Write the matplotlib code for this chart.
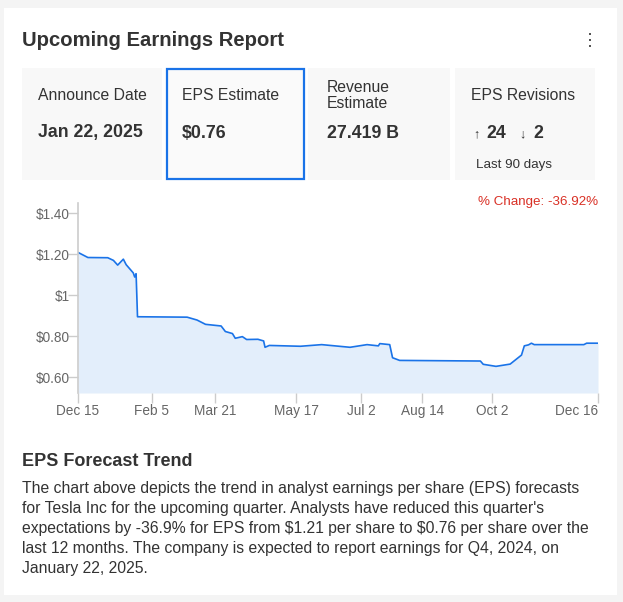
import matplotlib
matplotlib.use("Agg")
import matplotlib.pyplot as plt
from matplotlib.patches import Rectangle
import pandas as pd

plt.rcParams['font.family'] = ['Liberation Sans']
plt.rcParams['text.parse_math'] = False

# ---------------- data ----------------
dates = ["2023-12-15", "2023-12-22", "2024-01-05", "2024-01-09", "2024-01-12",
         "2024-01-16", "2024-01-18", "2024-01-23", "2024-01-24", "2024-01-25",
         "2024-01-26", "2024-03-01", "2024-03-08", "2024-03-14", "2024-03-25",
         "2024-03-28", "2024-04-02", "2024-04-04", "2024-04-09", "2024-04-12",
         "2024-04-20", "2024-04-24", "2024-04-25", "2024-04-28", "2024-05-20",
         "2024-06-04", "2024-06-24", "2024-07-06", "2024-07-14", "2024-07-15",
         "2024-07-22", "2024-07-24", "2024-07-29", "2024-09-24", "2024-09-26",
         "2024-10-05", "2024-10-15", "2024-10-23", "2024-10-25", "2024-10-28",
         "2024-10-30", "2024-11-01", "2024-12-06", "2024-12-08", "2024-12-16"]
eps = [1.208, 1.183, 1.182, 1.169, 1.146,
       1.175, 1.148, 1.108, 1.088, 1.104,
       0.894, 0.892, 0.878, 0.857, 0.849,
       0.822, 0.812, 0.789, 0.797, 0.783,
       0.784, 0.776, 0.745, 0.754, 0.750,
       0.758, 0.745, 0.758, 0.752, 0.763,
       0.758, 0.694, 0.681, 0.678, 0.662,
       0.652, 0.663, 0.707, 0.752, 0.757,
       0.765, 0.758, 0.758, 0.765, 0.765]
ytick_vals = [0.60, 0.80, 1.00, 1.20, 1.40]
ytick_labels = ["$0.60", "$0.80", "$1", "$1.20", "$1.40"]
xtick_dates = ["2023-12-15", "2024-02-05", "2024-03-21", "2024-05-17",
               "2024-07-02", "2024-08-14", "2024-10-02", "2024-12-16"]
xtick_labels = ["Dec 15", "Feb 5", "Mar 21", "May 17", "Jul 2", "Aug 14", "Oct 2", "Dec 16"]

card_labels = ["Announce Date", "EPS Estimate", "Revenue\nEstimate", "EPS Revisions"]
card_values = ["Jan 22, 2025", "$0.76", "27.419 B"]
revisions_up = "24"
revisions_down = "2"
pct_change = "% Change: -36.92%"

body_lines = [
    "The chart above depicts the trend in analyst earnings per share (EPS) forecasts",
    "for Tesla Inc for the upcoming quarter. Analysts have reduced this quarter's",
    "expectations by -36.9% for EPS from $1.21 per share to $0.76 per share over the",
    "last 12 months. The company is expected to report earnings for Q4, 2024, on",
    "January 22, 2025.",
]

# ---------------- figure ----------------
W, H = 623, 602
fig = plt.figure(figsize=(W / 100, H / 100), dpi=100)
fig.patch.set_facecolor("#f4f4f4")

bg = fig.add_axes([0, 0, 1, 1])
bg.set_xlim(0, W)
bg.set_ylim(H, 0)
bg.axis("off")

# card
bg.add_patch(Rectangle((4, 8), 613, 587, facecolor="white", edgecolor="none"))

dark = "#333333"
bg.text(22, 40, "Upcoming Earnings Report", fontsize=14.6, fontweight="bold",
        color=dark, va="center", ha="left")
for yy in (34, 40, 46):
    bg.add_patch(Rectangle((588.7, yy - 1.3), 2.6, 2.6, facecolor="#555555", edgecolor="none"))

# boxes
boxes = [(22, 162), (166, 305), (308, 450), (455, 595)]
for i, (x0, x1) in enumerate(boxes):
    if i == 1:
        bg.add_patch(Rectangle((x0 + 1, 69), x1 - x0 - 2, 110, facecolor="#fafafa",
                               edgecolor="#1a73e8", linewidth=1.6))
    else:
        bg.add_patch(Rectangle((x0, 68), x1 - x0, 112, facecolor="#f8f8f8", edgecolor="none"))

lab_x = [38, 182, 327, 471]
for i, lab in enumerate(card_labels):
    if "\n" in lab:
        l1, l2 = lab.split("\n")
        bg.text(lab_x[i], 87, l1, fontsize=11.3, color=dark, va="center")
        bg.text(lab_x[i], 104, l2, fontsize=11.3, color=dark, va="center")
    else:
        bg.text(lab_x[i], 96, lab, fontsize=11.3, color=dark, va="center")
for i, val in enumerate(card_values):
    bg.text(lab_x[i], 133, val, fontsize=12.8, fontweight="bold", color=dark, va="center")

arrow_font = ['Liberation Sans', 'DejaVu Sans']
bg.text(473, 134, "\u2191", fontsize=9, color=dark, va="center", family=arrow_font)
bg.text(486, 133, revisions_up, fontsize=12.8, fontweight="bold", color=dark, va="center")
bg.text(519, 134, "\u2193", fontsize=9, color=dark, va="center", family=arrow_font)
bg.text(533, 133, revisions_down, fontsize=12.8, fontweight="bold", color=dark, va="center")
bg.text(476, 165, "Last 90 days", fontsize=9.6, color=dark, va="center")

bg.text(598, 202, pct_change, fontsize=9.6, color="#d93025", va="center", ha="right")

bg.text(22, 462, "EPS Forecast Trend", fontsize=13, fontweight="bold", color=dark, va="center")
for k, line in enumerate(body_lines):
    bg.text(22, 488 + 20 * k, line, fontsize=11.3, color=dark, va="center")

# ---------------- chart ----------------
ax_l, ax_r, ax_t, ax_b = 78, 598, 203, 393
ax = fig.add_axes([ax_l / W, 1 - ax_b / H, (ax_r - ax_l) / W, (ax_b - ax_t) / H])
ax.patch.set_alpha(0)

d = pd.to_datetime(dates)
ymin, ymax = 0.522, 1.449
ax.fill_between(d, eps, ymin, color="#e3eefb", linewidth=0)
ax.plot(d, eps, color="#1a73e8", linewidth=1.2)
ax.set_xlim(pd.Timestamp(xtick_dates[0]), pd.Timestamp(xtick_dates[-1]))
ax.set_ylim(ymin, ymax)

for s in ("top", "right", "bottom"):
    ax.spines[s].set_visible(False)
ax.spines["left"].set_color("#cccccc")
ax.spines["left"].set_linewidth(1.2)

ax.set_yticks(ytick_vals)
ax.set_yticklabels(ytick_labels)
ax.set_xticks(pd.to_datetime(xtick_dates))
ax.set_xticklabels(xtick_labels)
ax.tick_params(axis="both", length=7, width=1, color="#cccccc", labelcolor="#666666",
               labelsize=9.8)
ax.tick_params(axis="x", pad=8.8)
ax.tick_params(axis="y", pad=-1.0)
labels = ax.get_xticklabels()
for lb in labels:
    lb.set_va("baseline")
labels[-1].set_ha("right")

fig.savefig("out.png", dpi=100, facecolor=fig.get_facecolor())
